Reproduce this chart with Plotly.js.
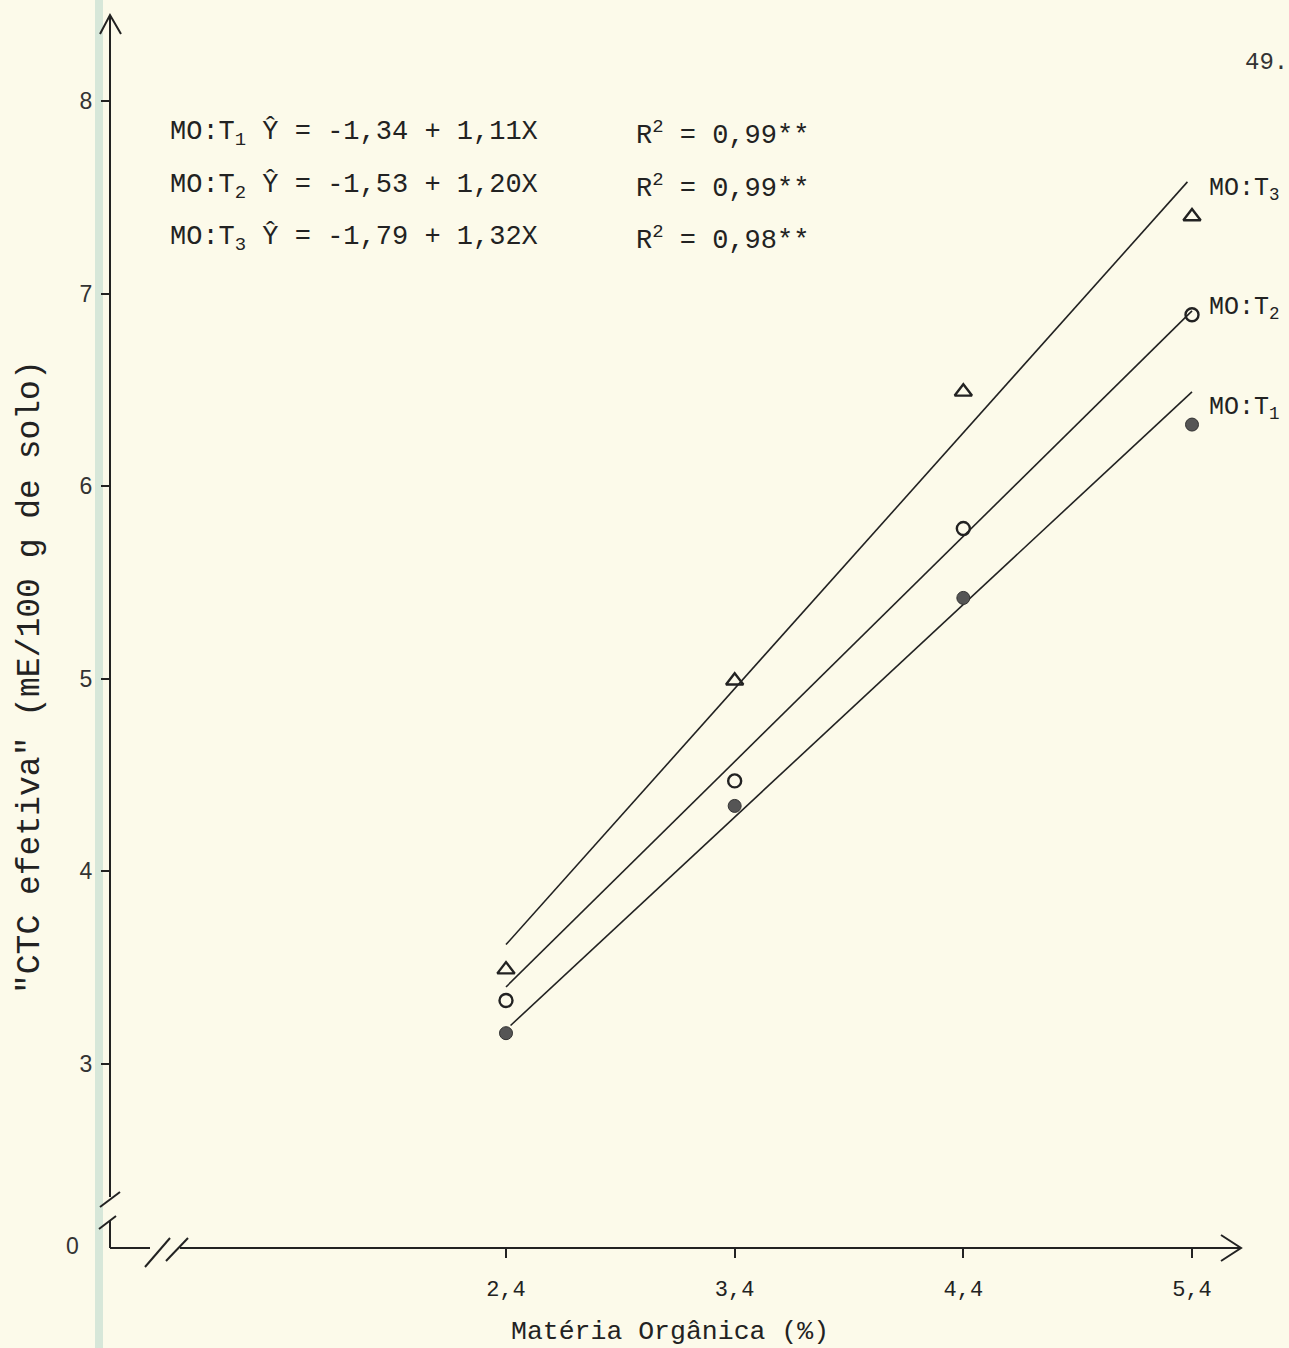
<!DOCTYPE html>
<html>
<head>
<meta charset="utf-8">
<script src="https://cdn.plot.ly/plotly-3.0.1.min.js"></script>
<style>html,body{margin:0;padding:0;background:#fcfaea;}</style>
</head>
<body>
<div id="chart" style="width:1289px;height:1348px;"></div>
<script>
// ---- data ----
var materiaOrganica = [2.4, 3.4, 4.4, 5.4];
var ctcT1 = [3.16, 4.34, 5.42, 6.32];
var ctcT2 = [3.33, 4.47, 5.78, 6.89];
var ctcT3 = [3.49, 4.99, 6.49, 7.40];

var fitX1 = [2.42, 5.4];
var fitT1 = [3.20, 6.49];
var fitX2 = [2.4, 5.4];
var fitT2 = [3.40, 6.91];
var fitX3 = [2.4, 5.38];
var fitT3 = [3.62, 7.58];

var xTickVals = [2.4, 3.4, 4.4, 5.4];
var xTickText = ['2,4', '3,4', '4,4', '5,4'];
var yTickVals = [3, 4, 5, 6, 7, 8];
var yTickText = ['3', '4', '5', '6', '7', '8'];

var equations = [
  'MO:T<sub>1</sub> Ŷ = -1,34 + 1,11X',
  'MO:T<sub>2</sub> Ŷ = -1,53 + 1,20X',
  'MO:T<sub>3</sub> Ŷ = -1,79 + 1,32X'
];
var r2Texts = [
  'R<sup>2</sup> = 0,99**',
  'R<sup>2</sup> = 0,99**',
  'R<sup>2</sup> = 0,98**'
];
var seriesLabels = ['MO:T<sub>1</sub>', 'MO:T<sub>2</sub>', 'MO:T<sub>3</sub>'];

// ---- layout geometry (pixels) ----
var L = 110, R = 1250, T = 15, B = 1248;
var W = R - L, H = B - T;
var xPxPerUnit = (1192 - 506) / 3;
var yPxPerUnit = (1064 - 101) / 5;
var xMin = 2.4 - (506 - L) / xPxPerUnit;
var xMax = xMin + W / xPxPerUnit;
var yMin = 3 - (B - 1064) / yPxPerUnit;
var yMax = yMin + H / yPxPerUnit;
function px(p) { return (p - L) / W; }
function py(p) { return (B - p) / H; }

var ink = '#222';
var mono = 'Liberation Mono, DejaVu Sans Mono, monospace';
var sans = 'Liberation Sans, Arial, sans-serif';

var traces = [
  {x: fitX1, y: fitT1, mode: 'lines', line: {color: ink, width: 1.6}, showlegend: false, hoverinfo: 'skip'},
  {x: fitX2, y: fitT2, mode: 'lines', line: {color: ink, width: 1.6}, showlegend: false, hoverinfo: 'skip'},
  {x: fitX3, y: fitT3, mode: 'lines', line: {color: ink, width: 1.6}, showlegend: false, hoverinfo: 'skip'},
  {x: materiaOrganica, y: ctcT1, mode: 'markers', name: 'MO:T1',
   marker: {symbol: 'circle', size: 13, color: '#555', line: {color: '#333', width: 1}}, showlegend: false},
  {x: materiaOrganica, y: ctcT2, mode: 'markers', name: 'MO:T2',
   marker: {symbol: 'circle-open', size: 13, color: ink, line: {width: 2.4}}, showlegend: false},
  {x: materiaOrganica, y: ctcT3, mode: 'markers', name: 'MO:T3',
   marker: {symbol: 'triangle-up-open', size: 15, color: ink, line: {width: 2.4}}, showlegend: false}
];

function seg(x0, y0, x1, y1) {
  return {type: 'line', xref: 'paper', yref: 'paper', x0: px(x0), y0: py(y0), x1: px(x1), y1: py(y1),
          line: {color: ink, width: 2}};
}
function path(pts) {
  var d = pts.map(function (p, i) { return (i ? 'L' : 'M') + px(p[0]) + ',' + py(p[1]); }).join(' ');
  return {type: 'path', xref: 'paper', yref: 'paper', path: d, line: {color: ink, width: 2}};
}

var shapes = [
  {type: 'rect', xref: 'paper', yref: 'paper', x0: px(95), x1: px(103), y0: py(1348), y1: py(0),
   fillcolor: 'rgba(200,222,210,0.7)', line: {width: 0}, layer: 'below'},
  seg(110, 15, 110, 1197),
  path([[100, 34], [110, 15], [121, 34]]),
  seg(100, 1207, 120, 1192),
  seg(99, 1229, 116, 1216),
  seg(110, 1220, 110, 1248),
  seg(110, 1248, 150, 1248),
  seg(145, 1267, 170, 1238),
  seg(166, 1261, 188, 1238),
  seg(180, 1248, 1241, 1248),
  path([[1221, 1235], [1241, 1248], [1221, 1261]])
];

var annotations = [];
var eqY = [133, 187, 239];
for (var i = 0; i < 3; i++) {
  annotations.push({xref: 'paper', yref: 'paper', x: px(168), y: py(eqY[i]), xanchor: 'left', yanchor: 'middle',
    text: equations[i], showarrow: false, font: {family: mono, size: 27, color: ink}});
  annotations.push({xref: 'paper', yref: 'paper', x: px(634), y: py(eqY[i]), xanchor: 'left', yanchor: 'middle',
    text: r2Texts[i], showarrow: false, font: {family: mono, size: 27, color: ink}});
}
var lblY = [408, 308, 190];
for (var j = 0; j < 3; j++) {
  annotations.push({xref: 'paper', yref: 'paper', x: px(1207), y: py(lblY[j]), xanchor: 'left', yanchor: 'middle',
    text: seriesLabels[j], showarrow: false, font: {family: mono, size: 25, color: ink}});
}
annotations.push({xref: 'paper', yref: 'paper', x: px(72), y: py(1246), xanchor: 'center', yanchor: 'middle',
  text: '0', showarrow: false, font: {family: sans, size: 23, color: '#333'}});
annotations.push({xref: 'paper', yref: 'paper', x: px(1266), y: py(62), xanchor: 'center', yanchor: 'middle',
  text: '49.', showarrow: false, font: {family: mono, size: 24, color: '#333'}});
annotations.push({xref: 'paper', yref: 'paper', x: px(670), y: py(1332), xanchor: 'center', yanchor: 'middle',
  text: 'Matéria Orgânica (%)', showarrow: false, font: {family: mono, size: 26.5, color: ink}});
annotations.push({xref: 'paper', yref: 'paper', x: px(30), y: py(677), xanchor: 'center', yanchor: 'middle',
  text: '"CTC efetiva" (mE/100 g de solo)', textangle: -90, showarrow: false,
  font: {family: mono, size: 33, color: ink}});

var layout = {
  width: 1289, height: 1348,
  margin: {l: L, r: 1289 - R, t: T, b: 1348 - B, pad: 0},
  paper_bgcolor: '#fcfaea', plot_bgcolor: '#fcfaea',
  showlegend: false,
  xaxis: {range: [xMin, xMax], showgrid: false, zeroline: false, showline: false,
          tickmode: 'array', tickvals: xTickVals, ticktext: xTickText,
          ticks: 'outside', ticklen: 9, tickwidth: 1.5, tickcolor: ink, ticklabelstandoff: 12,
          tickfont: {family: mono, size: 22, color: ink}, fixedrange: true},
  yaxis: {range: [yMin, yMax], showgrid: false, zeroline: false, showline: false,
          tickmode: 'array', tickvals: yTickVals, ticktext: yTickText,
          ticks: 'outside', ticklen: 8, tickwidth: 2, tickcolor: ink, ticklabelstandoff: 4,
          tickfont: {family: sans, size: 23, color: '#333'}, fixedrange: true},
  shapes: shapes,
  annotations: annotations
};

Plotly.newPlot('chart', traces, layout, {displayModeBar: false});
</script>
</body>
</html>
